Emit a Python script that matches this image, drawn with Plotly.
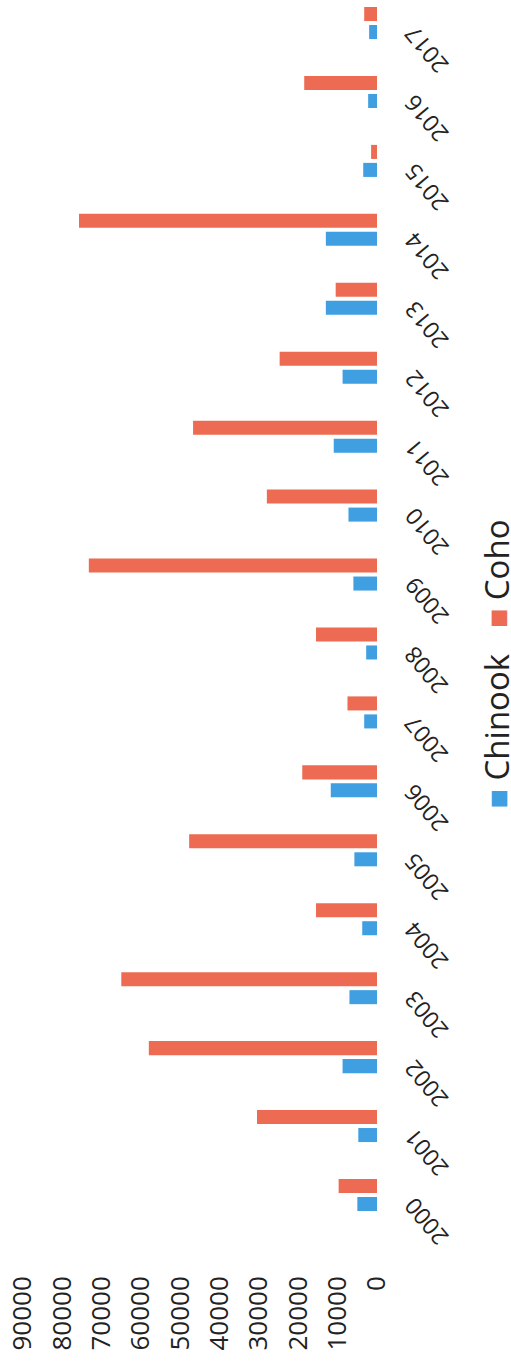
import plotly.graph_objects as go

years = [str(y) for y in range(2000, 2018)]
chinook = [5000, 4750, 8750, 7000, 3750, 5750, 11750, 3250, 2750, 6000, 7250, 11000, 8750, 13000, 13000, 3500, 2250, 2000]
coho = [9750, 30500, 58000, 65000, 15500, 47750, 19000, 7500, 15500, 73250, 28000, 46750, 24750, 10500, 75750, 1500, 18500, 3250]
value_ticks = [0, 10000, 20000, 30000, 40000, 50000, 60000, 70000, 80000, 90000]

BLUE = "#3f9fe0"
RED = "#ec6b52"
FONT = "Open Sans"
TXT = "#222222"

fig = go.Figure()
fig.add_trace(go.Bar(y=years, x=chinook, orientation="h", name="Chinook", marker_color=BLUE, marker_line_width=0))
fig.add_trace(go.Bar(y=years, x=coho, orientation="h", name="Coho", marker_color=RED, marker_line_width=0))

fig.update_layout(
    width=511, height=1363,
    margin=dict(l=19, r=134, t=0, b=93),
    barmode="group", bargap=0.478, bargroupgap=0.22,
    plot_bgcolor="white", paper_bgcolor="white",
    showlegend=False,
    font=dict(family=FONT, color=TXT),
)
fig.update_xaxes(
    range=[91000, 0], tickvals=value_ticks, ticktext=[str(v) for v in value_ticks],
    tickangle=-90, tickfont=dict(size=26, family=FONT, color=TXT),
    showgrid=False, zeroline=False, showline=False, ticks="", side="bottom",
    automargin=False, ticklabeloverflow="allow",
)
fig.update_yaxes(
    type="category", categoryarray=years, range=[-1.088, 17.334], side="right",
    showticklabels=False, showgrid=False, zeroline=False, showline=False, ticks="",
    automargin=False,
)
# year labels, rotated like the reference
for i, yr in enumerate(years):
    fig.add_annotation(
        xref="paper", yref="y", x=1.137, y=i, yshift=-27,
        xanchor="center", yanchor="middle",
        text=yr, textangle=-130, showarrow=False,
        font=dict(size=23, family=FONT, color=TXT),
    )
fig.add_annotation(
    xref="paper", yref="paper", x=1.335, y=0.4776,
    xanchor="center", yanchor="middle",
    text=(f"<span style='color:{BLUE};font-size:32px'>■</span> Chinook"
          f"   <span style='color:{RED};font-size:32px'>■</span> Coho"),
    textangle=-90, showarrow=False, font=dict(size=33, family=FONT, color=TXT),
)
fig.write_html(
    "out.html",
    config={"displayModeBar": False},
    post_script="document.body.style.margin='0';document.body.style.overflow='hidden';",
)
